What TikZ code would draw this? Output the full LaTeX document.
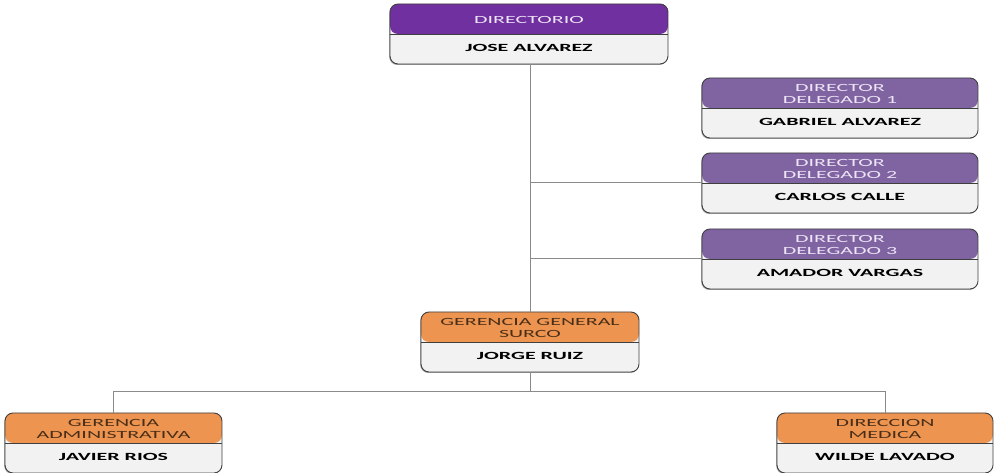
\documentclass[tikz,border=0pt]{standalone}
\usepackage{fontspec}
\setmainfont{Carlito}
\newfontfamily\unitfont[FakeStretch=2.0]{Carlito}
\usetikzlibrary{shadows}
\definecolor{topviolet}{HTML}{7030A0}
\definecolor{delviolet}{HTML}{8064A2}
\definecolor{mgmtorange}{HTML}{EC9450}
\definecolor{bodygray}{HTML}{F2F2F2}
\definecolor{frame}{HTML}{3F3F3F}
\definecolor{linkgray}{HTML}{8A8A8A}
\definecolor{palelilac}{HTML}{EDE4F6}
\definecolor{darkbrown}{HTML}{4A2E18}

\tikzset{
  unitbox/.style={draw=frame, line width=0.9bp, rounded corners=8bp,
    fill=bodygray, minimum height=60bp, inner sep=0pt,
    drop shadow={shadow xshift=-0.8bp, shadow yshift=-1bp, fill=black!55, opacity=0.6},
    path picture={\fill[#1] (path picture bounding box.north west)
        rectangle (path picture bounding box.east);
      \draw[frame, line width=0.8bp] (path picture bounding box.west)
        -- (path picture bounding box.east);}},
  headtext/.style={text=#1, font=\unitfont\fontsize{11}{13}\selectfont,
    align=center, inner sep=0pt},
  nametext/.style={text=black, font=\unitfont\bfseries\fontsize{11}{13}\selectfont,
    inner sep=0pt},
  link/.style={draw=linkgray, line width=1bp}
}

% #1 name, #2 centre, #3 width, #4 header fill, #5 header text colour,
% #6 header text, #7 person
\newcommand\orgunit[7]{%
  \node[unitbox=#4, minimum width=#3] (#1) at (#2) {};
  \node[headtext=#5] (#1-head) at ([yshift=14bp]#1.center) {#6};
  \node[nametext] (#1-name) at ([yshift=-14bp]#1.center) {#7};
}

\begin{document}
\begin{tikzpicture}[x=1bp, y=-1bp]
  \useasboundingbox (0,0) rectangle (995,473);

  % units
  \orgunit{dir}{529,34}{278bp}{topviolet}{palelilac}{DIRECTORIO}{JOSE ALVAREZ}
  \orgunit{del1}{840,108}{276bp}{delviolet}{palelilac}{DIRECTOR\\DELEGADO 1}{GABRIEL ALVAREZ}
  \orgunit{del2}{840,183}{276bp}{delviolet}{palelilac}{DIRECTOR\\DELEGADO 2}{CARLOS CALLE}
  \orgunit{del3}{840,259}{276bp}{delviolet}{palelilac}{DIRECTOR\\DELEGADO 3}{AMADOR VARGAS}
  \orgunit{gg}{530,342}{218bp}{mgmtorange}{darkbrown}{GERENCIA GENERAL\\SURCO}{JORGE RUIZ}
  \orgunit{ga}{113.5,443}{217bp}{mgmtorange}{darkbrown}{GERENCIA\\ADMINISTRATIVA}{JAVIER RIOS}
  \orgunit{dm}{885,443}{216bp}{mgmtorange}{darkbrown}{DIRECCION\\MEDICA}{WILDE LAVADO}

  % connectors
  \coordinate (tap2) at (530,183);
  \coordinate (tap3) at (530,259);
  \coordinate (fork) at (530,392);
  \draw[link] (dir.south -| gg.north) -- (gg.north);
  \draw[link] (tap2) -- (del2.west);
  \draw[link] (tap3) -- (del3.west);
  \draw[link] (gg.south) -- (fork);
  \draw[link] (fork) -| (ga.north);
  \draw[link] (fork) -| (dm.north);
\end{tikzpicture}
\end{document}
